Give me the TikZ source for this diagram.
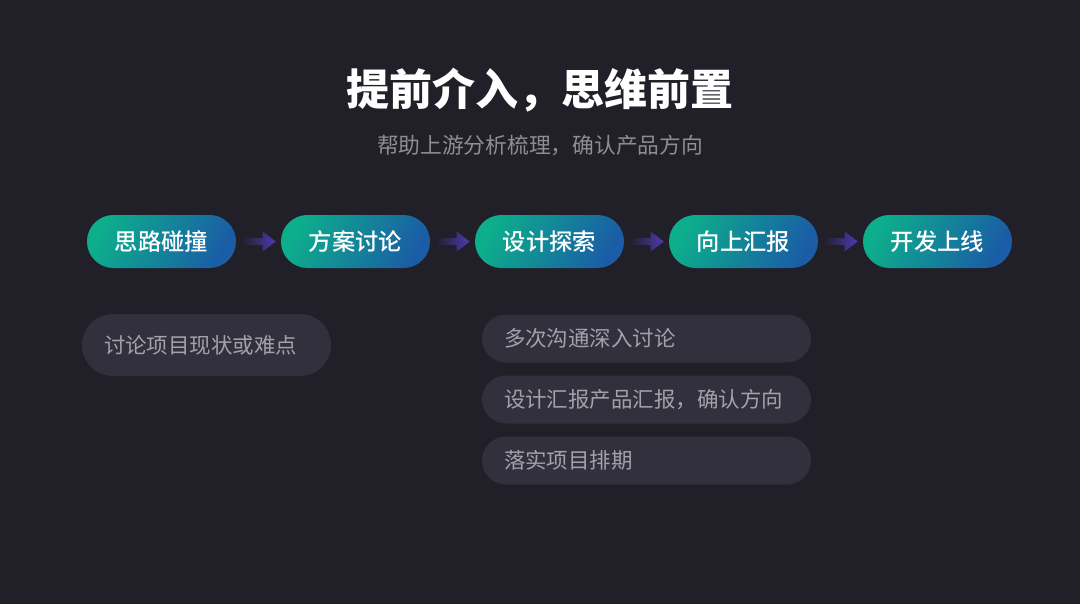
\documentclass[tikz,border=0pt]{standalone}
\usepackage{fontspec}
\setmainfont{Noto Sans CJK SC}
\newfontfamily\stagefont{Noto Sans CJK SC Medium}
\usetikzlibrary{calc}
\definecolor{bgdark}{HTML}{211F27}
\definecolor{notefill}{HTML}{33303D}
\definecolor{notetext}{HTML}{A3A1AA}
\definecolor{subtext}{HTML}{8E8C95}
\definecolor{pillgreen}{HTML}{0DAE8C}
\definecolor{pillblue}{HTML}{1A5DA6}
\definecolor{arrowpurple}{HTML}{4C3BB2}
\tikzset{stage/.style={rounded corners=19.8pt, minimum width=111.75pt, minimum height=39.75pt,
		inner sep=0pt, left color=pillgreen, right color=pillblue, shading angle=65,
		text=white, font=\stagefont\fontsize{17.5pt}{17.5pt}\selectfont},
	note/.style={fill=notefill, inner ysep=0pt, inner xsep=16.5pt, align=left,
		text=notetext, font=\fontsize{16.1pt}{16.1pt}\selectfont}}

\begin{document}
\begin{tikzpicture} [x=0.75pt, y=-0.75pt, node distance=145.5pt]
	\fill[bgdark] (0,0) rectangle (1080,604);

	\node (title) at (540,90) [text=white, font=\bfseries\fontsize{32.25pt}{32.25pt}\selectfont]{
		提前介入，思维前置
	};
	\node (subtitle) at (540,145) [text=subtext, font=\fontsize{16.3pt}{16.3pt}\selectfont]{
		帮助上游分析梳理，确认产品方向
	};

	\node (s1) at (161.5,241.5) [stage]{思路碰撞};
	\node (s2) [stage, right of=s1]{方案讨论};
	\node (s3) [stage, right of=s2]{设计探索};
	\node (s4) [stage, right of=s3]{向上汇报};
	\node (s5) [stage, right of=s4]{开发上线};

	\foreach \a/\b in {s1/s2, s2/s3, s3/s4, s4/s5}
		\shade[left color=bgdark, right color=arrowpurple]
			($(\a.east)+(5,-3.5)$) -- ($(\b.west)+(-18,-3.5)$) -- ($(\b.west)+(-18,-10)$)
			-- ($(\b.west)+(-5,0)$) -- ($(\b.west)+(-18,10)$) -- ($(\b.west)+(-18,3.5)$)
			-- ($(\a.east)+(5,3.5)$) -- cycle;

	\node (n1) at (206.5,345) [note, rounded corners=23.25pt, minimum height=46.5pt, text width=153.75pt]{
		讨论项目现状或难点
	};
	\node (n2) at (646.5,338.5) [note, rounded corners=18pt, minimum height=36pt, text width=213.75pt]{
		多次沟通深入讨论
	};
	\node (n3) [note, rounded corners=18pt, minimum height=36pt, text width=213.75pt, below of=n2, node distance=45.75pt]{
		设计汇报产品汇报，确认方向
	};
	\node (n4) [note, rounded corners=18pt, minimum height=36pt, text width=213.75pt, below of=n3, node distance=45.75pt]{
		落实项目排期
	};
\end{tikzpicture}
\end{document}
